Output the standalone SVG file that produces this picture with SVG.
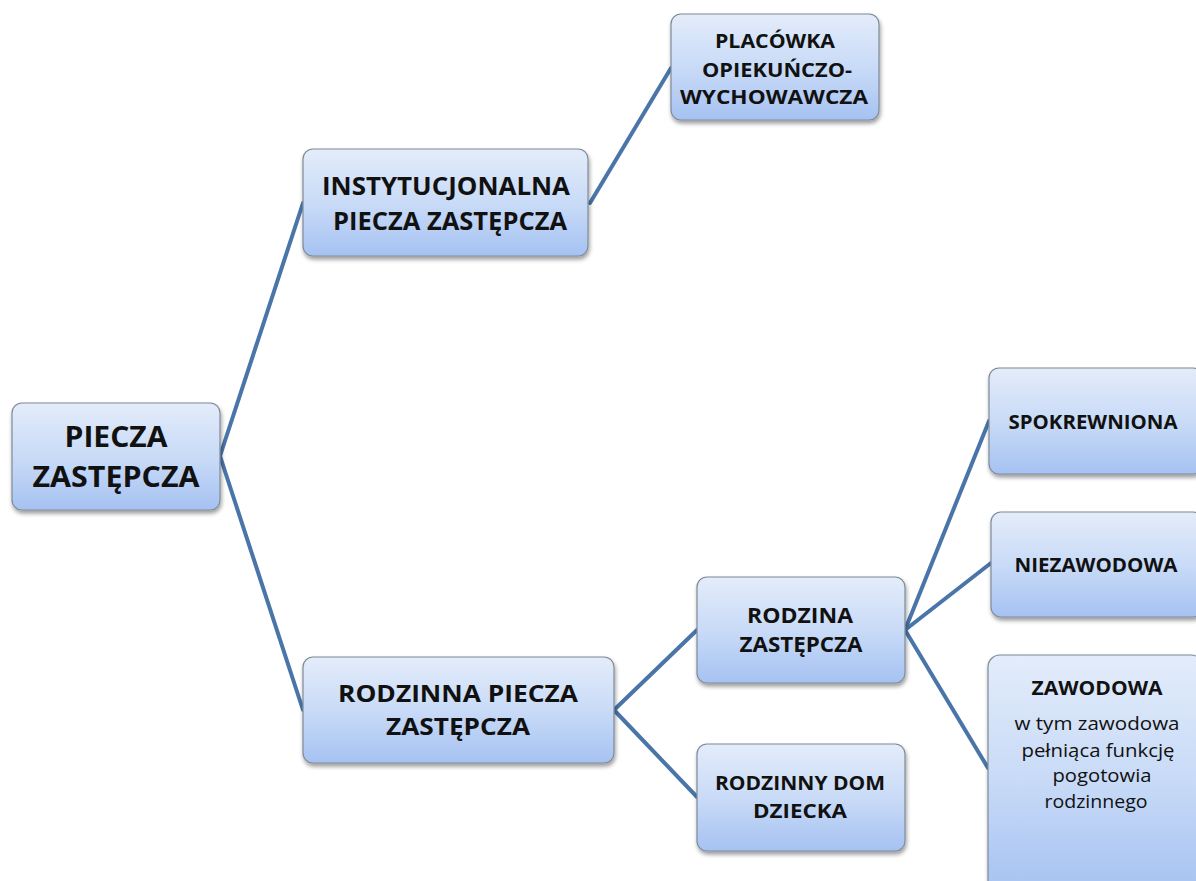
<svg xmlns="http://www.w3.org/2000/svg" width="1196" height="881" viewBox="0 0 1196 881">
<defs>
<linearGradient id="g" x1="0" y1="0" x2="0" y2="1">
<stop offset="0" stop-color="#e3ecfa"/>
<stop offset="0.5" stop-color="#c9dbf7"/>
<stop offset="1" stop-color="#a6c2f2"/>
</linearGradient>
<filter id="sh" x="-10%" y="-10%" width="125%" height="130%">
<feGaussianBlur in="SourceAlpha" stdDeviation="2"/>
<feOffset dx="1" dy="3" result="b"/>
<feComponentTransfer><feFuncA type="linear" slope="0.4"/></feComponentTransfer>
<feMerge><feMergeNode/><feMergeNode in="SourceGraphic"/></feMerge>
</filter>
</defs>
<style>
.box{fill:url(#g);stroke:#7f8a99;stroke-width:1.2;filter:url(#sh)}
.t{font-family:"Open Sans","Liberation Sans",sans-serif;font-weight:bold;fill:#111;text-anchor:middle}
.n{font-family:"Open Sans","Liberation Sans",sans-serif;fill:#111;text-anchor:middle;font-size:18.5px}
.c{stroke:#4a75a8;stroke-width:4;fill:none;stroke-linecap:round}
</style>
<rect width="1196" height="881" fill="#fff"/>
<g id="connectors">
<line class="c" x1="220" y1="456" x2="303" y2="203"/>
<line class="c" x1="220" y1="456" x2="303" y2="710"/>
<line class="c" x1="590" y1="203" x2="671" y2="68"/>
<line class="c" x1="614" y1="710" x2="697" y2="630"/>
<line class="c" x1="614" y1="710" x2="697" y2="797"/>
<line class="c" x1="905" y1="630" x2="989" y2="421"/>
<line class="c" x1="905" y1="630" x2="991" y2="563"/>
<line class="c" x1="905" y1="630" x2="988" y2="768"/>
</g>
<g id="n1">
<rect class="box" x="12" y="403" width="208" height="107" rx="10"/>
<text class="t" font-size="29" x="116" y="447" textLength="103" lengthAdjust="spacingAndGlyphs">PIECZA</text>
<text class="t" font-size="29" x="116" y="487" textLength="167" lengthAdjust="spacingAndGlyphs">ZASTĘPCZA</text>
</g>
<g id="n2">
<rect class="box" x="303" y="149" width="285" height="107" rx="10"/>
<text class="t" font-size="25" x="446" y="195" textLength="248" lengthAdjust="spacingAndGlyphs">INSTYTUCJONALNA</text>
<text class="t" font-size="25" x="450" y="230" textLength="234" lengthAdjust="spacingAndGlyphs">PIECZA ZASTĘPCZA</text>
</g>
<g id="n3">
<rect class="box" x="671" y="14" width="208" height="106" rx="10"/>
<text class="t" font-size="20" x="775" y="48" textLength="120" lengthAdjust="spacingAndGlyphs">PLACÓWKA</text>
<text class="t" font-size="19" x="777" y="77" textLength="150" lengthAdjust="spacingAndGlyphs">OPIEKUŃCZO-</text>
<text class="t" font-size="19" x="774" y="104" textLength="188" lengthAdjust="spacingAndGlyphs">WYCHOWAWCZA</text>
</g>
<g id="n4">
<rect class="box" x="303" y="657" width="311" height="106" rx="10"/>
<text class="t" font-size="24" x="458" y="702" textLength="240" lengthAdjust="spacingAndGlyphs">RODZINNA PIECZA</text>
<text class="t" font-size="24" x="458" y="735" textLength="144" lengthAdjust="spacingAndGlyphs">ZASTĘPCZA</text>
</g>
<g id="n5">
<rect class="box" x="697" y="577" width="208" height="106" rx="10"/>
<text class="t" font-size="21" x="800" y="623" textLength="106" lengthAdjust="spacingAndGlyphs">RODZINA</text>
<text class="t" font-size="21" x="801" y="652" textLength="123" lengthAdjust="spacingAndGlyphs">ZASTĘPCZA</text>
</g>
<g id="n6">
<rect class="box" x="697" y="744" width="208" height="107" rx="10"/>
<text class="t" font-size="20" x="800" y="790" textLength="170" lengthAdjust="spacingAndGlyphs">RODZINNY DOM</text>
<text class="t" font-size="20" x="800" y="818" textLength="94" lengthAdjust="spacingAndGlyphs">DZIECKA</text>
</g>
<g id="n7">
<rect class="box" x="989" y="368" width="214" height="106" rx="10"/>
<text class="t" font-size="20" x="1093" y="429" textLength="169" lengthAdjust="spacingAndGlyphs">SPOKREWNIONA</text>
</g>
<g id="n8">
<rect class="box" x="991" y="512" width="212" height="105" rx="10"/>
<text class="t" font-size="20" x="1096" y="572" textLength="163" lengthAdjust="spacingAndGlyphs">NIEZAWODOWA</text>
</g>
<g id="n9">
<rect class="box" x="988" y="655" width="215" height="240" rx="12"/>
<text class="t" font-size="20" x="1097" y="695" textLength="131" lengthAdjust="spacingAndGlyphs">ZAWODOWA</text>
<text class="n" x="1097" y="730" textLength="165" lengthAdjust="spacingAndGlyphs">w tym zawodowa</text>
<text class="n" x="1098" y="757" textLength="153" lengthAdjust="spacingAndGlyphs">pełniąca funkcję</text>
<text class="n" x="1102" y="782" textLength="99" lengthAdjust="spacingAndGlyphs">pogotowia</text>
<text class="n" x="1096" y="808" textLength="103" lengthAdjust="spacingAndGlyphs">rodzinnego</text>
</g>
</svg>
